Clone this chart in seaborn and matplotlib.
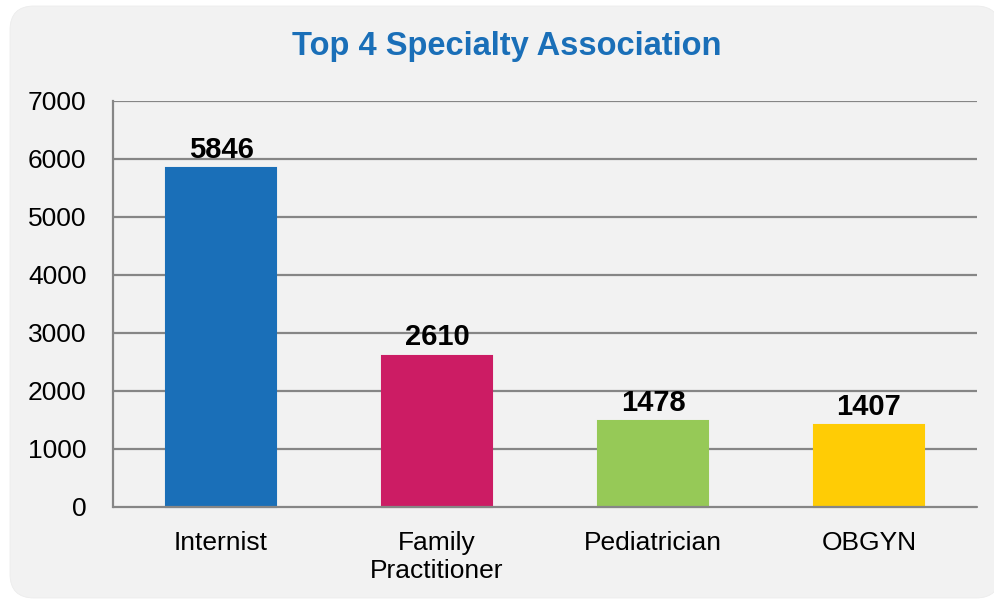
import matplotlib
matplotlib.use("Agg")
import matplotlib.pyplot as plt
from matplotlib.patches import FancyBboxPatch
from matplotlib.transforms import IdentityTransform
import seaborn as sns
import pandas as pd

categories = ["Internist", "Family\nPractitioner", "Pediatrician", "OBGYN"]
counts = [5846, 2610, 1478, 1407]
colors = ["#1a6fb8", "#cc1c64", "#96c957", "#ffcc05"]
y_ticks = [0, 1000, 2000, 3000, 4000, 5000, 6000, 7000]
title = "Top 4 Specialty Association"

df = pd.DataFrame({"specialty": categories, "count": counts})

sns.set_theme(style="white")
plt.rcParams["font.family"] = ["Liberation Sans", "DejaVu Sans"]

W, H = 994, 599
fig = plt.figure(figsize=(W / 100, H / 100), dpi=100)
fig.patch.set_facecolor("white")

# rounded panel behind the chart (pixel coordinates)
panel = FancyBboxPatch((10, 1), 990, 592,
                       boxstyle="round,pad=0,rounding_size=24",
                       transform=IdentityTransform(), facecolor="#f2f2f2",
                       edgecolor="#ececec", linewidth=0.6, zorder=-5)
fig.patches.append(panel)

ax = fig.add_axes([113 / W, 1 - 507 / H, (977 - 113) / W, (507 - 101) / H])
ax.set_facecolor("none")

sns.barplot(data=df, x="specialty", y="count", hue="specialty",
            palette=colors, width=0.51, legend=False, ax=ax, zorder=3,
            saturation=1)
for p, c in zip(ax.patches, colors):
    p.set_edgecolor(c)
    p.set_linewidth(1.5)
    p.set_clip_on(False)

grid_c = "#868686"
ax.set_ylim(0, 7000)
ax.set_xlim(-0.5, len(categories) - 0.5)
ax.set_yticks(y_ticks)
ax.set_yticklabels([str(v) for v in y_ticks], fontsize=19, color="black")
for v in y_ticks[1:]:
    ax.axhline(v, color=grid_c, linewidth=1.6, zorder=1)
ax.axhline(0, color=grid_c, linewidth=1.6, zorder=5, clip_on=False)

ax.set_xticks(range(len(categories)))
ax.set_xticklabels(categories, fontsize=19, color="black", linespacing=1.25)
ax.set_xticks([i - 0.5 for i in range(len(categories) + 1)], minor=True)
ax.tick_params(axis="x", which="major", length=0, pad=17)
ax.tick_params(axis="x", which="minor", length=7, width=1.6, color=grid_c, direction="out")
ax.tick_params(axis="y", length=7, width=1.6, color=grid_c, direction="out", pad=12)

for s in ["top", "right", "bottom"]:
    ax.spines[s].set_visible(False)
ax.spines["left"].set_color(grid_c)
ax.spines["left"].set_linewidth(1.6)
ax.spines["left"].set_zorder(6)

ax.set_xlabel("")
ax.set_ylabel("")

for i, v in enumerate(counts):
    ax.annotate(str(v), (i, v), xytext=(0, 3), textcoords="offset points",
                ha="center", va="bottom", fontsize=21, fontweight="bold",
                color="black", zorder=7)

fig.text(507 / W, 1 - 47 / H, title, ha="center", va="center",
         fontsize=23.5, fontweight="bold", color="#1a6fb8")

fig.savefig("out.png", dpi=100, facecolor=fig.get_facecolor())
